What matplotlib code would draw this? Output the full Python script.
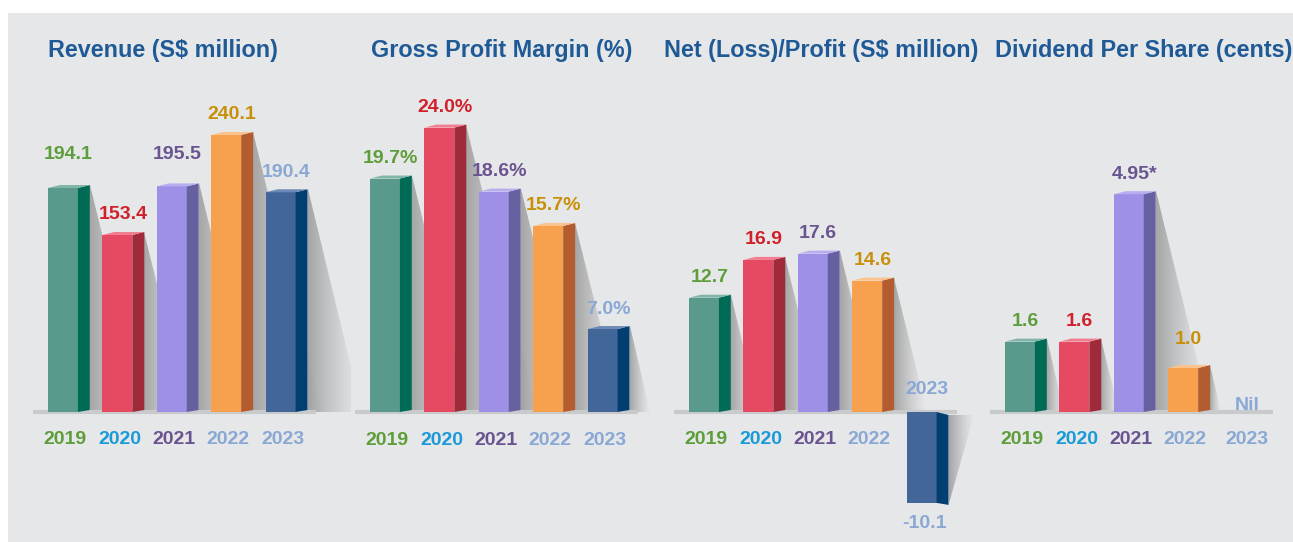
import numpy as np
import matplotlib
matplotlib.use('Agg')
import matplotlib.pyplot as plt
from matplotlib.patches import Polygon, Rectangle

# data
years = ['2019', '2020', '2021', '2022', '2023']
revenue = [194.1, 153.4, 195.5, 240.1, 190.4]
gross_margin = [19.7, 24.0, 18.6, 15.7, 7.0]
net_profit = [12.7, 16.9, 17.6, 14.6, -10.1]
dividend = [1.6, 1.6, 4.95, 1.0, 0.0]

revenue_labels = ['{:.1f}'.format(v) for v in revenue]
margin_labels = ['{:.1f}%'.format(v) for v in gross_margin]
net_labels = ['{:.1f}'.format(v) for v in net_profit]
dividend_labels = ['1.6', '1.6', '4.95*', '1.0', 'Nil']

titles = ['Revenue (S$ million)', 'Gross Profit Margin (%)',
          'Net (Loss)/Profit (S$ million)', 'Dividend Per Share (cents)']

# colours per year
front_colors = ['#5A9A8C', '#E64A62', '#9E90E6', '#F7A04E', '#436699']
side_colors = ['#006B55', '#9E2A3A', '#6560A0', '#B35C30', '#033E73']
top_colors = ['#80B5A8', '#F27D8F', '#B8AEEF', '#FAC28C', '#6D89B6']
value_colors = ['#5E9E3A', '#D0202A', '#6A5490', '#C8900A', '#8AA8D4']
year_colors = ['#5E9E3A', '#1A9AD8', '#6A5490', '#8AA8D4', '#8AA8D4']
title_color = '#1F5A96'

plt.rcParams['font.family'] = ['Liberation Sans', 'DejaVu Sans']

W, H = 1293, 542
fig = plt.figure(figsize=(W / 100, H / 100), dpi=100)
fig.patch.set_facecolor('white')
fig.patches.append(Rectangle((8 / W, 0), 1, (H - 13) / H, transform=fig.transFigure,
                             facecolor='#E6E7E9', edgecolor='none', zorder=-1))

SPACING = 54.42      # px per category
FRONT, DEPTH = 0.55, 0.22
BASE_PX, AX_TOP, AX_BOT = 412, 60, 540

# (title, values, labels, px per unit, axes left px, title centre px)
panels = [
    (titles[0], revenue, revenue_labels, 1.154, 33, 163),
    (titles[1], gross_margin, margin_labels, 11.85, 355, 502),
    (titles[2], net_profit, net_labels, 9.0, 674, 821),
    (titles[3], dividend, dividend_labels, 44.0, 990, 1144),
]
# extra lift for a few value labels (px)
label_nudge = {(0, 0): 14, (0, 2): 12, (3, 3): 9}


def shadow(ax, x0, y_top, y_bot, w, negative):
    if negative:
        pts = [(x0, y_top), (x0 + w, y_top), (x0, y_bot)]
    else:
        pts = [(x0, y_top), (x0, y_bot), (x0 + w, y_bot)]
    poly = Polygon(pts, closed=True, facecolor='none', edgecolor='none')
    ax.add_patch(poly)
    n = 80
    rgba = np.zeros((1, n, 4))
    rgba[..., :3] = 0.53
    rgba[..., 3] = 0.68 * np.linspace(1, 0, n) ** 1.3
    im = ax.imshow(rgba, extent=[x0, x0 + w, y_bot, y_top], aspect='auto',
                   interpolation='bilinear', zorder=1)
    im.set_clip_path(poly)


for k, (title, vals, labels, ppu, left, tx) in enumerate(panels):
    ax = fig.add_axes([left / W, (H - AX_BOT) / H, 5.85 * SPACING / W, (AX_BOT - AX_TOP) / H])
    ax.set_facecolor('none')
    py = 1 / ppu
    ax.plot([-0.55, 4.65], [0, 0], color='#C9CACC', lw=3, solid_capstyle='butt', zorder=2)

    for i, v in enumerate(vals):
        xl, xr = i - FRONT / 2, i + FRONT / 2
        nudge = label_nudge.get((k, i), 0)
        if v > 0:
            w = 0.25 * v * ppu / SPACING
            shadow(ax, xr + DEPTH, v + 3 * py, 0, w, False)
            ax.bar(i, v, width=FRONT, color=front_colors[i], zorder=4)
            ax.add_patch(Polygon([(xr, 0), (xr + DEPTH, 2 * py), (xr + DEPTH, v + 3 * py), (xr, v)],
                                 facecolor=side_colors[i], edgecolor='none', zorder=4))
            ax.add_patch(Polygon([(xl, v), (xr, v), (xr + DEPTH, v + 3 * py), (xl + DEPTH, v + 3 * py)],
                                 facecolor=top_colors[i], edgecolor='none', zorder=4))
            ax.annotate(labels[i], (i + 0.1, v), xytext=(0, 20 + nudge), textcoords='offset pixels',
                        ha='center', va='center', fontsize=14, fontweight='bold', color=value_colors[i])
            ax.annotate(years[i], (i + 0.04, 0), xytext=(0, -28), textcoords='offset pixels',
                        ha='center', va='center', fontsize=14, fontweight='bold', color=year_colors[i])
        elif v < 0:
            w = 0.28 * -v * ppu / SPACING
            shadow(ax, xr + DEPTH, -3 * py, v - 2 * py, w, True)
            ax.bar(i, v, width=FRONT, color=front_colors[i], zorder=4)
            ax.add_patch(Polygon([(xr, 0), (xr + DEPTH, -3 * py), (xr + DEPTH, v - 2 * py), (xr, v)],
                                 facecolor=side_colors[i], edgecolor='none', zorder=4))
            ax.annotate(labels[i], (i + 0.06, v), xytext=(0, -21), textcoords='offset pixels',
                        ha='center', va='center', fontsize=14, fontweight='bold', color=value_colors[i])
            ax.annotate(years[i], (i + 0.1, 0), xytext=(0, 23), textcoords='offset pixels',
                        ha='center', va='center', fontsize=14, fontweight='bold', color=year_colors[i])
        else:
            ax.annotate(labels[i], (i + 0.17, 0), xytext=(0, 6), textcoords='offset pixels',
                        ha='center', va='center', fontsize=14, fontweight='bold', color=value_colors[i])
            ax.annotate(years[i], (i + 0.17, 0), xytext=(0, -28), textcoords='offset pixels',
                        ha='center', va='center', fontsize=14, fontweight='bold', color=year_colors[i])

    ax.set_xlim(-0.55, 5.3)
    ax.set_ylim(-(AX_BOT - BASE_PX) / ppu, (BASE_PX - AX_TOP) / ppu)
    ax.axis('off')

    fig.text(tx / W, (H - 50) / H, title, ha='center', va='center', fontsize=16.8,
             fontweight='bold', color=title_color)

fig.savefig('out.png', dpi=100)
